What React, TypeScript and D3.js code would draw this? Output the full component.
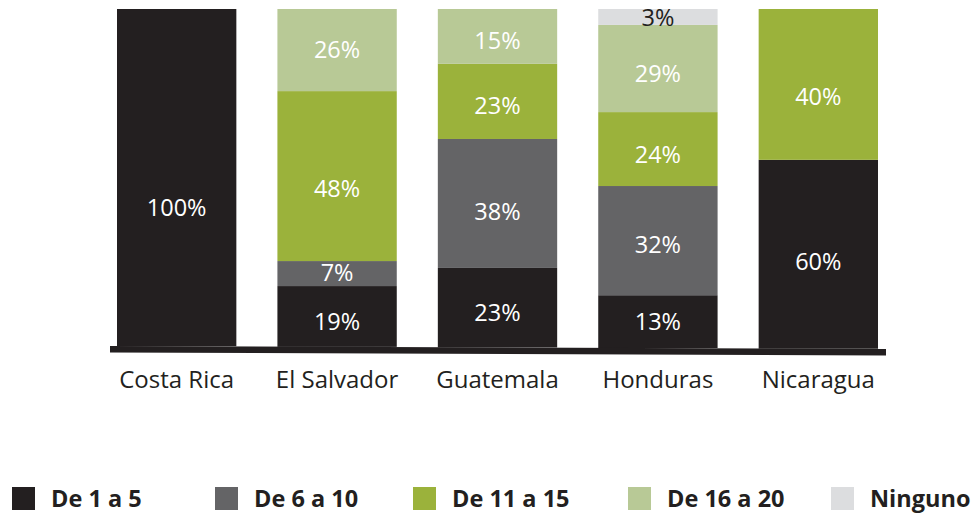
import React from "react";
import * as d3 from "d3";

const categories = ["Costa Rica", "El Salvador", "Guatemala", "Honduras", "Nicaragua"];
const seriesNames = ["De 1 a 5", "De 6 a 10", "De 11 a 15", "De 16 a 20", "Ninguno"];

// shares (%) as drawn (bar segment heights)
const de1a5 = [100, 18.0, 23.5, 15.6, 55.6];
const de6a10 = [0, 7.4, 38.1, 32.2, 0];
const de11a15 = [0, 50.3, 22.2, 21.8, 44.4];
const de16a20 = [0, 24.3, 16.2, 25.7, 0];
const ninguno = [0, 0, 0, 4.7, 0];

// printed labels
const label1a5 = ["100%", "19%", "23%", "13%", "60%"];
const label6a10 = ["", "7%", "38%", "32%", ""];
const label11a15 = ["", "48%", "23%", "24%", "40%"];
const label16a20 = ["", "26%", "15%", "29%", ""];
const labelNinguno = ["", "", "", "3%", ""];

// where each printed label sits, in the bar's % units
const at1a5 = [41.0, 7.4, 10.2, 7.7, 25.8];
const at6a10 = [0, 21.9, 40.3, 30.4, 0];
const at11a15 = [0, 47.0, 71.6, 57.2, 74.1];
const at16a20 = [0, 87.9, 90.8, 81.1, 0];
const atNinguno = [0, 0, 0, 97.6, 0];

const seriesValues = [de1a5, de6a10, de11a15, de16a20, ninguno];
const seriesLabels = [label1a5, label6a10, label11a15, label16a20, labelNinguno];
const seriesLabelAt = [at1a5, at6a10, at11a15, at16a20, atNinguno];
const colors = ["#231f20", "#646466", "#9bb23b", "#b8c996", "#dcdddf"];
const labelColors = ["#ffffff", "#ffffff", "#ffffff", "#ffffff", "#231f20"];

const W = 974;
const H = 515;
const FONT = "'Open Sans', 'Noto Sans', sans-serif";

export default function App() {
  const x = d3.scaleBand<string>().domain(categories).range([117, 878]).paddingInner(0.256).paddingOuter(0);
  const lineX0 = 110;
  const lineX1 = 886;
  const baseY = d3.scaleLinear().domain([lineX0, lineX1]).range([346, 349]);
  const top = 9;

  const rows = categories.map((c, i) => {
    const r: any = { cat: c };
    seriesNames.forEach((s, j) => (r[s] = seriesValues[j][i]));
    return r;
  });
  const stack = d3.stack<any>().keys(seriesNames)(rows);

  const legendX = [12, 215, 413, 628, 831];

  return (
    <svg width={W} height={H} style={{ position: "absolute", left: 0, top: 0 }} fontFamily={FONT}>
      {categories.map((c, i) => {
        const bx = x(c)!;
        const bw = x.bandwidth();
        const bottom = baseY(bx + bw / 2);
        const total = d3.sum(seriesValues, (s) => s[i]);
        const y = d3.scaleLinear().domain([0, total]).range([bottom, top]);
        return (
          <g key={c}>
            {stack.map((layer, j) => {
              const d = layer[i];
              if (d[1] - d[0] <= 0) return null;
              const y0 = y(d[0]);
              const y1 = y(d[1]);
              return <rect key={j} x={bx} y={y1} width={bw} height={y0 - y1} fill={colors[j]} />;
            })}
            {stack.map((layer, j) => {
              const txt = seriesLabels[j][i];
              if (!txt) return null;
              return (
                <text
                  key={"t" + j}
                  x={bx + bw / 2}
                  y={y(seriesLabelAt[j][i])}
                  dy="0.36em"
                  textAnchor="middle"
                  fontSize={23.5}
                  fill={labelColors[j]}
                >
                  {txt}
                </text>
              );
            })}
            <text x={bx + bw / 2} y={388} textAnchor="middle" fontSize={24} fill="#231f20">
              {c}
            </text>
          </g>
        );
      })}
      <polygon
        points={`${lineX0},${baseY(lineX0)} ${lineX1},${baseY(lineX1)} ${lineX1},${baseY(lineX1) + 6.5} ${lineX0},${baseY(lineX0) + 6.5}`}
        fill="#231f20"
      />
      {seriesNames.map((s, j) => (
        <g key={s}>
          <rect x={legendX[j]} y={487} width={23} height={23} fill={colors[j]} />
          <text x={legendX[j] + 39} y={507} fontSize={23.5} fontWeight="bold" fill="#231f20">
            {s}
          </text>
        </g>
      ))}
    </svg>
  );
}
